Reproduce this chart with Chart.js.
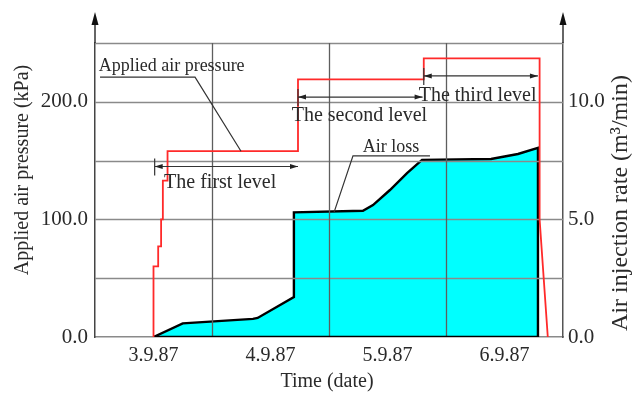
<!DOCTYPE html>
<html>
<head>
<meta charset="utf-8">
<script src="https://cdn.jsdelivr.net/npm/chart.js@4.4.0/dist/chart.umd.min.js"></script>
<style>
  html, body { margin: 0; padding: 0; background: #fff; }
  #wrap { width: 638px; height: 393px; }
</style>
</head>
<body>
<div id="wrap"><canvas id="c" width="638" height="393"></canvas></div>
<script>
// Date labels, one per day column (x runs in days from the start of 3.9.87)
const dateLabels = ['3.9.87', '4.9.87', '5.9.87', '6.9.87'];

// Applied air pressure (kPa), corner points of the loading steps
const pressureDays = [0.50, 0.50, 0.54, 0.54, 0.565, 0.565, 0.58, 0.58, 0.62, 0.62, 1.735, 1.735, 2.81, 2.81, 3.80, 3.80, 3.87];
const pressureKPa  = [0,    60,   60,   77,   77,    100,   100,  133,  133,  158,  158,   219,   219,  237,  237,  100,  0];

// Air loss / air injection rate (m³/min)
const airDays = [0.50, 0.75, 1.35, 1.39, 1.70, 1.70, 2.29, 2.376, 2.521, 2.667, 2.795, 3.385, 3.615, 3.786, 3.786];
const airRate = [0,    0.58, 0.77, 0.81, 1.70, 5.30, 5.37, 5.61,  6.25,  6.97,  7.53,  7.57,  7.78,  8.04,  0];

// Tick values shown on the two vertical axes
const pressureTicks = [0, 100, 200];
const rateTicks = [0, 5, 10];

const FONT = '"Liberation Serif", "Times New Roman", serif';
const GRID = '#8a8a8a';
const VGRID = '#5e5e5e';
const INK = '#2a2a2a';

const toPoints = (xs, ys) => xs.map((x, i) => ({ x, y: ys[i] }));

// Callout texts and level dimension lines, placed in data units (days, kPa)
const levelMarks = [
  { from: 0.51, to: 1.735, at: 145, label: 'The first level',  lx: 1.07, ly: 131 },
  { from: 1.735, to: 2.80, at: 204, label: 'The second level', lx: 2.26, ly: 188 },
  { from: 2.81, to: 3.786, at: 222, label: 'The third level',  lx: 3.27, ly: 205 }
];
const callouts = [
  { label: 'Applied air pressure', lx: 0.655, ly: 230, under: [0.043, 0.855, 221], tip: [1.248, 158] },
  { label: 'Air loss', lx: 2.53, ly: 161, under: [2.205, 2.863, 154], tip: [2.043, 106] }
];

function arrowHead(ctx, x, y, dir, len, half) {
  // dir: unit vector the arrow points along
  const [dx, dy] = dir;
  ctx.beginPath();
  ctx.moveTo(x, y);
  ctx.lineTo(x - dx * len - dy * half, y - dy * len + dx * half);
  ctx.lineTo(x - dx * len + dy * half, y - dy * len - dx * half);
  ctx.closePath();
  ctx.fill();
}

// Draws text centred at (x, y), rotated to read upwards
function verticalTitle(ctx, text, x, y) {
  ctx.save();
  ctx.translate(x, y);
  ctx.rotate(-Math.PI / 2);
  ctx.fillText(text, 0, 0);
  ctx.restore();
}

// Grid lines from the scales' ticks, painted over the filled air-loss area
// but under the pressure line
const gridOverlay = {
  id: 'gridOverlay',
  afterDatasetDraw(chart, args) {
    if (args.index !== 1) return;
    const ctx = chart.ctx;
    const { left, right, top, bottom } = chart.chartArea;
    const xs = chart.scales.x, ys = chart.scales.y;
    ctx.save();
    ctx.lineWidth = 1.3;
    ctx.strokeStyle = GRID;
    ys.ticks.forEach(t => {
      if (t.value === 0) return;
      const y = Math.round(ys.getPixelForValue(t.value)) + 0.5;
      ctx.beginPath(); ctx.moveTo(left, y); ctx.lineTo(right, y); ctx.stroke();
    });
    ctx.strokeStyle = VGRID;
    xs.ticks.forEach(t => {
      if (t.value % 1 !== 0 || t.value === xs.min || t.value === xs.max) return;
      const x = Math.round(xs.getPixelForValue(t.value)) + 0.5;
      ctx.beginPath(); ctx.moveTo(x, top); ctx.lineTo(x, bottom); ctx.stroke();
    });
    ctx.restore();
  }
};

const decorations = {
  id: 'decorations',
  afterDraw(chart) {
    const ctx = chart.ctx;
    const xs = chart.scales.x, ys = chart.scales.y;
    const { left, right, top } = chart.chartArea;
    const X = d => xs.getPixelForValue(d);
    const Y = k => ys.getPixelForValue(k);
    ctx.save();

    // axis arrows above both vertical axes
    ctx.strokeStyle = '#333';
    ctx.fillStyle = '#111';
    ctx.lineWidth = 1.5;
    [left, right].forEach(ax => {
      ctx.beginPath();
      ctx.moveTo(ax, top);
      ctx.lineTo(ax, 22);
      ctx.stroke();
      arrowHead(ctx, ax, 12, [0, -1], 13, 3.5);
    });

    // level dimension lines
    ctx.lineWidth = 1.2;
    ctx.strokeStyle = '#333';
    ctx.fillStyle = '#222';
    levelMarks.forEach(m => {
      const x1 = X(m.from), x2 = X(m.to), y = Y(m.at);
      ctx.beginPath();
      ctx.moveTo(x1, y); ctx.lineTo(x2, y);
      ctx.moveTo(x1, y - 8); ctx.lineTo(x1, y + 9);
      ctx.stroke();
      arrowHead(ctx, x1, y, [-1, 0], 8, 2.5);
      arrowHead(ctx, x2, y, [1, 0], 8, 2.5);
    });

    // callout underlines and leaders
    ctx.lineWidth = 1.2;
    callouts.forEach(c => {
      const [u1, u2, uy] = c.under;
      ctx.beginPath();
      if (c.tip[0] > u2) {
        ctx.moveTo(X(u1), Y(uy)); ctx.lineTo(X(u2), Y(uy));
      } else {
        ctx.moveTo(X(u2), Y(uy)); ctx.lineTo(X(u1), Y(uy));
      }
      ctx.lineTo(X(c.tip[0]), Y(c.tip[1]));
      ctx.stroke();
    });

    // texts
    ctx.fillStyle = INK;
    ctx.textAlign = 'center';
    ctx.textBaseline = 'middle';
    ctx.font = '20px ' + FONT;
    levelMarks.forEach(m => ctx.fillText(m.label, X(m.lx), Y(m.ly)));
    ctx.font = '18px ' + FONT;
    callouts.forEach(c => ctx.fillText(c.label, X(c.lx), Y(c.ly)));

    // axis titles
    ctx.font = '20px ' + FONT;
    ctx.fillText('Time (date)', 327, 382);
    verticalTitle(ctx, 'Applied air pressure (kPa)', 23, 170);
    ctx.font = '24px ' + FONT;
    verticalTitle(ctx, 'Air injection rate (m³/min)', 621, 203);

    ctx.restore();
  }
};

new Chart(document.getElementById('c'), {
  type: 'line',
  data: {
    datasets: [
      {
        label: 'Applied air pressure',
        data: toPoints(pressureDays, pressureKPa),
        yAxisID: 'y',
        borderColor: '#ff2a2a',
        borderWidth: 1.8,
        pointRadius: 0,
        fill: false,
        order: 0
      },
      {
        label: 'Air loss',
        data: toPoints(airDays, airRate),
        yAxisID: 'y1',
        borderColor: '#000',
        borderWidth: 2.4,
        backgroundColor: '#00ffff',
        pointRadius: 0,
        fill: 'origin',
        order: 2
      },
      {
        label: 'Air loss base',
        data: toPoints([airDays[0], airDays[airDays.length - 1]], [0, 0]),
        yAxisID: 'y1',
        borderColor: '#000',
        borderWidth: 2.4,
        pointRadius: 0,
        fill: false,
        order: 1
      }
    ]
  },
  options: {
    responsive: false,
    animation: false,
    events: [],
    layout: { padding: { top: 43, left: 0, right: 0, bottom: 0 } },
    plugins: { legend: { display: false }, tooltip: { enabled: false } },
    scales: {
      x: {
        type: 'linear',
        min: 0,
        max: dateLabels.length,
        afterFit: s => { s.height = 56; },
        afterBuildTicks: s => {
          s.ticks = [];
          for (let i = 0; i <= dateLabels.length * 2; i++) s.ticks.push({ value: i / 2 });
        },
        ticks: {
          autoSkip: false,
          maxRotation: 0,
          padding: 7,
          color: INK,
          font: { family: FONT, size: 20 },
          callback: v => (v % 1 === 0.5 ? dateLabels[v - 0.5] : '')
        },
        grid: { drawOnChartArea: false, drawTicks: false },
        border: { display: true, color: GRID, width: 1.4 }
      },
      y: {
        position: 'left',
        min: 0,
        max: 250,
        afterFit: s => { s.width = 95; },
        ticks: {
          stepSize: 50,
          padding: 7,
          color: INK,
          font: { family: FONT, size: 21 },
          callback: v => (pressureTicks.includes(v) ? v.toFixed(1) : '')
        },
        grid: { drawOnChartArea: false, drawTicks: false },
        border: { display: true, color: '#444', width: 1.5 }
      },
      y1: {
        position: 'right',
        min: 0,
        max: 12.5,
        afterFit: s => { s.width = 75; },
        ticks: {
          stepSize: 2.5,
          padding: 5,
          color: INK,
          font: { family: FONT, size: 21 },
          callback: v => (rateTicks.includes(v) ? v.toFixed(1) : '')
        },
        grid: { drawOnChartArea: false, drawTicks: false },
        border: { display: true, color: '#555', width: 1.5 }
      }
    }
  },
  plugins: [gridOverlay, decorations]
});
</script>
</body>
</html>
